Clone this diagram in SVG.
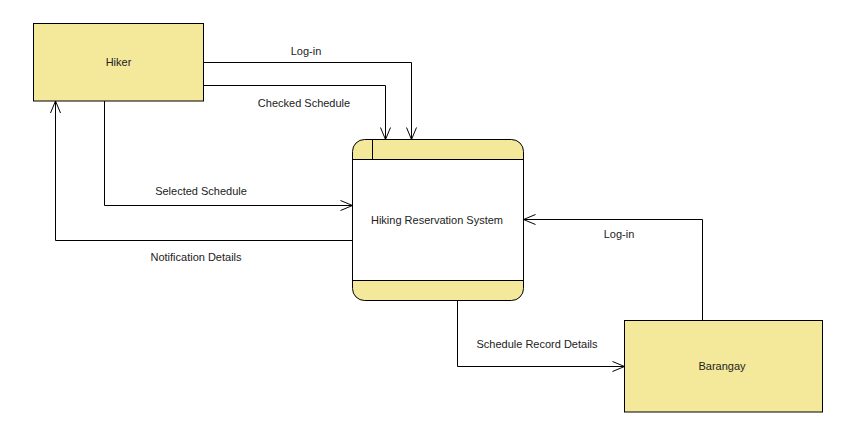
<svg xmlns="http://www.w3.org/2000/svg" width="858" height="444" viewBox="0 0 858 444">
<style>
.ent{fill:#f4e99b;stroke:#000;stroke-width:1}
.proc{fill:#fff;stroke:#000;stroke-width:1}
.band{fill:#f4e99b;stroke:none}
.ln{fill:none;stroke:#000;stroke-width:1}
text{font-family:"Liberation Sans",Arial,sans-serif;font-size:11px;fill:#222;text-anchor:middle;dominant-baseline:central}
</style>
<defs>
<marker id="ah" viewBox="0 0 14 12" refX="13" refY="6" markerWidth="14" markerHeight="12" markerUnits="userSpaceOnUse" orient="auto">
<path d="M1,1 L13,6 L1,11" fill="none" stroke="#000" stroke-width="1"/>
</marker>
</defs>
<rect width="858" height="444" fill="#fff"/>
<g id="hiker">
<rect class="ent" x="33.5" y="23.5" width="170" height="77.5"/>
<text x="118.5" y="62">Hiker</text>
</g>
<g id="system">
<path class="band" d="M364.5,139.5 H511.5 A12,12 0 0 1 523.5,151.5 V159.5 H352.5 V151.5 A12,12 0 0 1 364.5,139.5 Z"/>
<path class="band" d="M352.5,280.5 H523.5 V288.5 A12,12 0 0 1 511.5,300.5 H364.5 A12,12 0 0 1 352.5,288.5 Z"/>
<path class="ln" d="M364.5,139.5 H511.5 A12,12 0 0 1 523.5,151.5 V288.5 A12,12 0 0 1 511.5,300.5 H364.5 A12,12 0 0 1 352.5,288.5 V151.5 A12,12 0 0 1 364.5,139.5 Z"/>
<path class="ln" d="M352.5,159.5 H523.5 M352.5,280.5 H523.5 M372.5,139.5 V159.5"/>
<text x="437" y="220">Hiking Reservation System</text>
</g>
<g id="barangay">
<rect class="ent" x="624.5" y="320.5" width="198" height="91.5"/>
<text x="722" y="366">Barangay</text>
</g>
<g id="connectors">
<path class="ln" d="M203.5,62.5 H411.5 V139.5" marker-end="url(#ah)"/>
<path class="ln" d="M203.5,85.5 H385.5 V139.5" marker-end="url(#ah)"/>
<path class="ln" d="M104.5,101 V205.5 H352.5" marker-end="url(#ah)"/>
<path class="ln" d="M352.5,240.5 H55.5 V101" marker-end="url(#ah)"/>
<path class="ln" d="M702.5,320.5 V219.5 H523.5" marker-end="url(#ah)"/>
<path class="ln" d="M457.5,300.5 V366.5 H624.5" marker-end="url(#ah)"/>
<text x="306" y="51">Log-in</text>
<text x="304" y="103">Checked Schedule</text>
<text x="201" y="191">Selected Schedule</text>
<text x="196" y="257">Notification Details</text>
<text x="619" y="234">Log-in</text>
<text x="537" y="344">Schedule Record Details</text>
</g>
</svg>
